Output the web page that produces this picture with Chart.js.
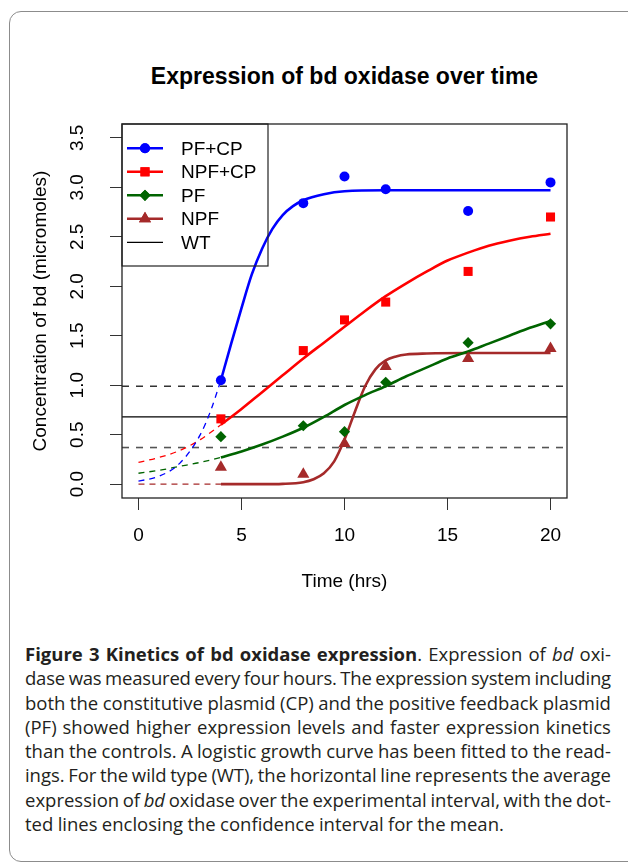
<!DOCTYPE html>
<html>
<head>
<meta charset="utf-8">
<script src="https://cdn.jsdelivr.net/npm/chart.js@4.4.0/dist/chart.umd.min.js"></script>
<style>
html,body{margin:0;padding:0;background:#fff}
#fig{position:relative;width:628px;height:863px;overflow:hidden}
#frame{position:absolute;left:9px;top:11px;width:660px;height:851px;border:1px solid #8c8c8c;border-radius:12px;box-sizing:border-box}
#title{position:absolute;left:0;width:689px;top:63px;line-height:28px;text-align:center;font:bold 23px 'Liberation Sans',Arial,sans-serif;color:#000}
#plot{position:absolute;left:0;top:0}
#cap{position:absolute;left:25px;top:642px;width:586px;font:18.5px 'Open Sans',sans-serif;line-height:24.3px;color:#231f20}
#cap .ln{display:flex;justify-content:space-between;white-space:nowrap}
#cap .last{white-space:nowrap}
</style>
</head>
<body>
<div id="fig">
  <div id="frame"></div>
  <div id="title">Expression of bd oxidase over time</div>
  <canvas id="plot" width="628" height="610"></canvas>
  <div id="cap"></div>
</div>
<script>
(function(){
  // axes
  var xTicks = [0, 5, 10, 15, 20];
  var yTicks = [0, 0.5, 1, 1.5, 2, 2.5, 3, 3.5];
  var xRange = [-0.8, 20.8];
  var yRange = [-0.14, 3.64];

  // measured readings (every four hours)
  var sampleHours = [4, 8, 10, 12, 16, 20];
  var pfcpObs  = [1.05, 2.84, 3.11, 2.98, 2.76, 3.05];
  var npfcpObs = [0.66, 1.35, 1.66, 1.84, 2.15, 2.70];
  var pfObs    = [0.48, 0.59, 0.53, 1.03, 1.43, 1.62];
  var npfObs   = [0.17, 0.10, 0.41, 1.19, 1.27, 1.37];

  // fitted logistic curves (dashed part before 4h)
  var pfcpPreT = [0, 1, 2, 3, 3.5, 4];
  var pfcpPreY = [0.03, 0.08, 0.21, 0.50, 0.74, 1.05];
  var pfcpFitT = [4, 4.5, 5, 5.5, 6, 6.5, 7, 7.5, 8, 9, 10, 12, 14, 16, 18, 20];
  var pfcpFitY = [1.05, 1.42, 1.78, 2.12, 2.38, 2.58, 2.72, 2.81, 2.87, 2.93, 2.96, 2.97, 2.97, 2.97, 2.97, 2.97];

  var npfcpPreT = [0, 1, 2, 3, 4];
  var npfcpPreY = [0.22, 0.27, 0.34, 0.45, 0.60];
  var npfcpFitT = [4, 5, 6, 7, 8, 9, 10, 11, 12, 13, 14, 15, 16, 17, 18, 19, 20];
  var npfcpFitY = [0.60, 0.76, 0.93, 1.10, 1.27, 1.43, 1.59, 1.75, 1.90, 2.03, 2.15, 2.26, 2.34, 2.41, 2.46, 2.50, 2.53];

  var pfPreT = [0, 1, 2, 3, 4];
  var pfPreY = [0.11, 0.14, 0.18, 0.22, 0.27];
  var pfFitT = [4, 5, 6, 7, 8, 9, 10, 11, 12, 13, 14, 15, 16, 17, 18, 19, 20];
  var pfFitY = [0.27, 0.33, 0.40, 0.48, 0.57, 0.68, 0.80, 0.90, 0.99, 1.09, 1.18, 1.27, 1.34, 1.42, 1.50, 1.58, 1.65];

  var npfPreT = [0, 4];
  var npfPreY = [0.0, 0.0];
  var npfFitT = [4, 5, 6, 7, 8, 8.5, 9, 9.5, 10, 10.5, 11, 11.5, 12, 12.5, 13, 14, 16, 18, 20];
  var npfFitY = [0.0, 0.0, 0.0, 0.003, 0.02, 0.05, 0.11, 0.23, 0.45, 0.73, 0.99, 1.16, 1.25, 1.29, 1.31, 1.32, 1.325, 1.325, 1.325];

  // wild type: mean and confidence interval
  var wtMean = 0.68;
  var wtCi = [0.37, 0.99];

  var legendLabels = ['PF+CP', 'NPF+CP', 'PF', 'NPF', 'WT'];
  var colors = ['#0000ff', '#ff0000', '#006400', '#a52a2a', '#000000'];
  var markers = [
    {pointStyle:'circle', radius:5},
    {pointStyle:'rect', radius:6.4},
    {pointStyle:'rectRot', radius:5.6},
    {pointStyle:'triangle', radius:7},
    null
  ];

  var captionLines = [
    '*Figure 3 Kinetics of bd oxidase expression*. Expression of _bd_ oxi-',
    'dase was measured every four hours. The expression system including',
    'both the constitutive plasmid (CP) and the positive feedback plasmid',
    '(PF) showed higher expression levels and faster expression kinetics',
    'than the controls. A logistic growth curve has been fitted to the read-',
    'ings. For the wild type (WT), the horizontal line represents the average',
    'expression of _bd_ oxidase over the experimental interval, with the dot-',
    'ted lines enclosing the confidence interval for the mean.'
  ];

  function byId(id){ return document.getElementById(id) }
  function xy(ts, vs){ return ts.map(function(t, i){ return {x:t, y:vs[i]} }) }

  function wordHtml(w, st){
    var out = '';
    for(var i=0;i<w.length;i++){
      var c = w[i];
      if(c === '*'){ st.b = !st.b; continue }
      if(c === '_'){ st.i = !st.i; continue }
      var tag = (st.b ? 'font-weight:700;' : '') + (st.i ? 'font-style:italic;' : '');
      out += tag ? '<span style="'+tag+'">'+c+'</span>' : c;
    }
    return out;
  }
  function renderCaption(){
    var cap = byId('cap'); var st = {b:false, i:false};
    captionLines.forEach(function(line, k){
      var div = document.createElement('div');
      var words = line.split(' ').map(function(w){ return '<span>'+wordHtml(w, st)+'</span>' });
      if(k === captionLines.length-1){ div.className = 'last'; div.innerHTML = words.join(' ') }
      else { div.className = 'ln'; div.innerHTML = words.join('') }
      cap.appendChild(div);
    });
    // squeeze letter spacing on lines whose words do not fit with a minimal gap
    Array.prototype.forEach.call(cap.querySelectorAll('.ln'), function(div){
      var ls = 0;
      for(var n=0;n<30;n++){
        var kids = div.children, w = 0;
        for(var j=0;j<kids.length;j++) w += kids[j].getBoundingClientRect().width;
        if(w + 3.5*(kids.length-1) <= 586) break;
        ls -= 0.05; div.style.letterSpacing = ls.toFixed(2) + 'px';
      }
    });
    var last = cap.querySelector('.last'); last.style.wordSpacing = '-0.5px';
  }

  var FONT = "'Liberation Sans', Arial, Helvetica, sans-serif";
  Chart.defaults.font.family = FONT;
  Chart.defaults.font.size = 19;
  Chart.defaults.color = '#000';

  function pts(ts, vs, idx){
    return { data: xy(ts, vs), showLine:false, pointStyle:markers[idx].pointStyle, pointRadius:markers[idx].radius,
             pointBackgroundColor:colors[idx], pointBorderWidth:0, borderColor:colors[idx], order:0 };
  }
  function fit(ts, vs, idx){
    return { data: xy(ts, vs), borderColor:colors[idx], borderWidth:2.6, pointRadius:0, fill:false,
             cubicInterpolationMode:'monotone', order:1 };
  }
  function pre(ts, vs, idx){
    return { data: xy(ts, vs), borderColor:colors[idx], borderWidth:1.3, borderDash:[6,5], pointRadius:0, fill:false,
             cubicInterpolationMode:'monotone', order:1 };
  }
  function hline(v, dash, col, w){
    return { data: xy(xRange, [v, v]), borderColor:col, borderWidth:w, borderDash:dash, pointRadius:0, fill:false, order:2 };
  }

  var datasets = [
    pts(sampleHours, pfcpObs, 0), pts(sampleHours, npfcpObs, 1), pts(sampleHours, pfObs, 2), pts(sampleHours, npfObs, 3),
    fit(pfcpFitT, pfcpFitY, 0), fit(npfcpFitT, npfcpFitY, 1), fit(pfFitT, pfFitY, 2), fit(npfFitT, npfFitY, 3),
    pre(pfcpPreT, pfcpPreY, 0), pre(npfcpPreT, npfcpPreY, 1), pre(pfPreT, pfPreY, 2), pre(npfPreT, npfPreY, 3),
    hline(wtMean, [], '#000', 1.2),
    hline(wtCi[0], [7,7], '#555', 1.6),
    hline(wtCi[1], [7,7], '#000', 1.2)
  ];

  var rFrame = {
    id:'rFrame',
    afterDraw: function(chart){
      var ctx = chart.ctx, a = chart.chartArea;
      ctx.save();
      ctx.strokeStyle = '#222'; ctx.lineWidth = 1.3;
      ctx.strokeRect(a.left, a.top, a.right-a.left, a.bottom-a.top);
      // legend box, top-left corner of the plot
      var L = a.left, T = a.top;
      ctx.lineWidth = 1.2;
      ctx.strokeRect(L, T, 146, 142);
      ctx.font = '19px ' + FONT; ctx.textBaseline = 'middle'; ctx.textAlign = 'left';
      legendLabels.forEach(function(lab, i){
        var y = T + 24.3 + i*23.5;
        ctx.strokeStyle = colors[i]; ctx.lineWidth = markers[i] ? 2.6 : 1.2;
        ctx.beginPath(); ctx.moveTo(L+5, y); ctx.lineTo(L+41, y); ctx.stroke();
        if(markers[i]){
          ctx.fillStyle = colors[i];
          Chart.helpers.drawPoint(ctx, {pointStyle:markers[i].pointStyle, radius:markers[i].radius, rotation:0, borderWidth:0}, L+23, y);
          ctx.fill();
        }
        ctx.fillStyle = '#000';
        ctx.fillText(lab, L+59, y+1);
      });
      ctx.restore();
    }
  };

  function render(){
    new Chart(byId('plot').getContext('2d'), {
      type:'line',
      data:{ datasets: datasets },
      plugins:[rFrame],
      options:{
        responsive:false, animation:false, devicePixelRatio:1, events:[],
        layout:{ padding:{ left:20, top:124, right:61, bottom:12 } },
        plugins:{ legend:{display:false}, tooltip:{enabled:false}, title:{display:false} },
        scales:{
          x:{
            type:'linear', min:xRange[0], max:xRange[1],
            afterBuildTicks:function(s){ s.ticks = xTicks.map(function(v){ return {value:v} }) },
            afterFit:function(s){ s.height = 100 },
            grid:{ drawOnChartArea:false, tickLength:12, color:'#333', lineWidth:1 },
            border:{ display:false },
            ticks:{ padding:14, maxRotation:0, minRotation:0, callback:function(v){ return String(v) } },
            title:{ display:true, text:'Time (hrs)', padding:{top:0, bottom:5} }
          },
          y:{
            type:'linear', min:yRange[0], max:yRange[1],
            afterBuildTicks:function(s){ s.ticks = yTicks.map(function(v){ return {value:v} }) },
            afterFit:function(s){ s.width = 102 },
            grid:{ drawOnChartArea:false, tickLength:12, color:'#333', lineWidth:1 },
            border:{ display:false },
            ticks:{ padding:19, minRotation:90, maxRotation:90, crossAlign:'center', callback:function(v){ return v.toFixed(1) } },
            title:{ display:true, text:'Concentration of bd (micromoles)', padding:{top:9, bottom:0} }
          }
        }
      }
    });
  }

  window.addEventListener('DOMContentLoaded', function(){ renderCaption(); render(); });
})();
</script>
</body>
</html>
